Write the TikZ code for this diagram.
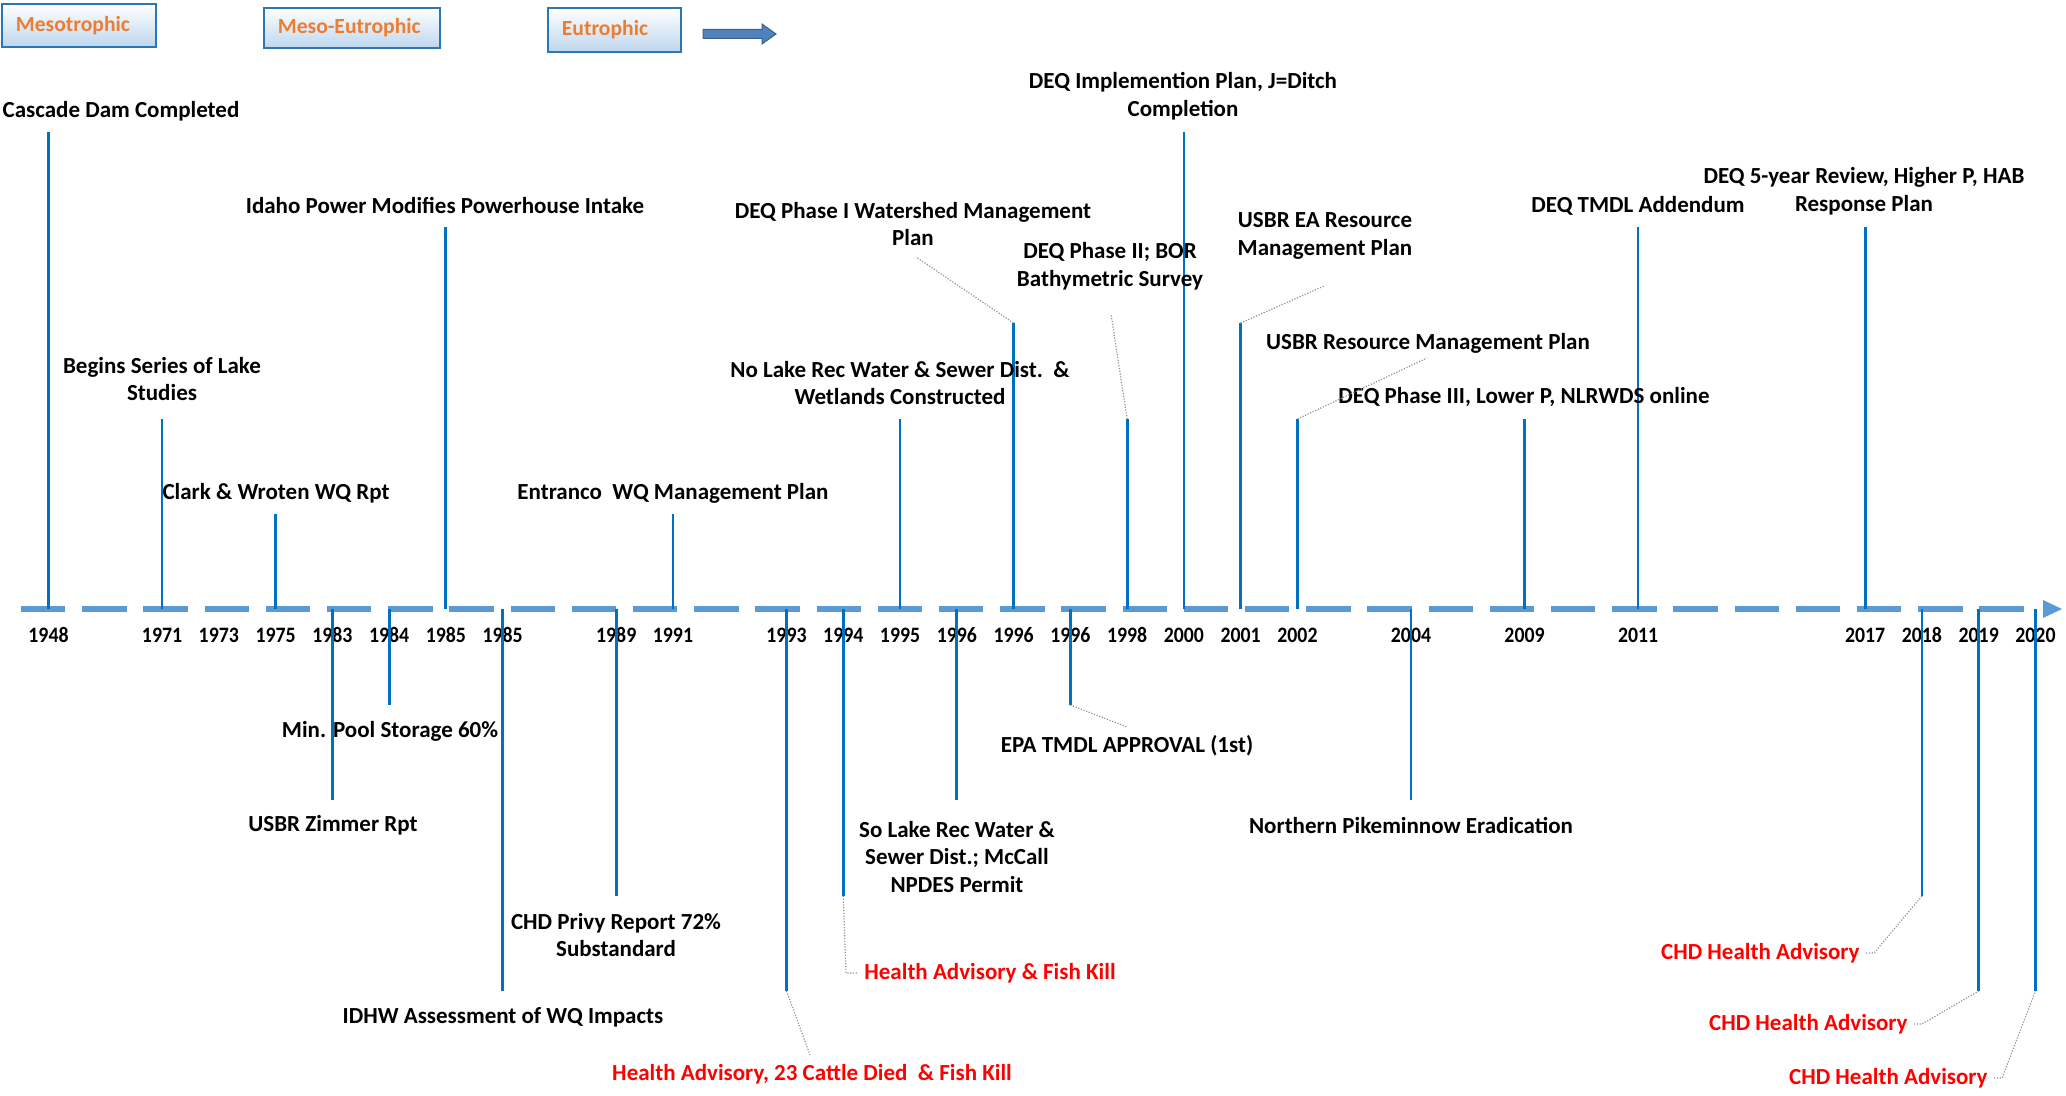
\documentclass[tikz,border=0pt]{standalone}
\usepackage{fontspec}
\usepackage{graphicx}
\setmainfont{Carlito}
\usetikzlibrary{calc}
\definecolor{stemblue}{RGB}{0,112,192}
\definecolor{axisblue}{RGB}{91,155,213}
\definecolor{legorange}{RGB}{237,125,49}
\definecolor{legfill}{RGB}{189,215,238}
\definecolor{legborder}{RGB}{46,117,182}
\definecolor{arrowfill}{RGB}{79,129,189}
\definecolor{advred}{RGB}{255,0,0}
\tikzset{
  stem/.style={draw=stemblue, line width=1.4pt},
  lead/.style={draw=gray!85, line width=0.6pt, dash pattern=on 0.6pt off 0.8pt},
  lbl/.style={font=\fontsize{11.5}{13.8}\selectfont\bfseries, align=center, inner sep=0pt, text=black, yshift=-1pt},
  redlbl/.style={lbl, text=advred, inner xsep=3pt},
  yr/.style={font=\fontsize{11}{13}\selectfont\bfseries, inner sep=0pt},
  legbox/.style={draw=legborder, line width=0.9pt, top color=white, bottom color=legfill,
    anchor=north west, inner xsep=7pt, inner ysep=0pt, align=left,
    font=\fontsize{10.8}{12}\selectfont\bfseries, text=legorange},
  axisline/.style={draw=axisblue, line width=2.6pt, dash pattern=on 22.2pt off 8.4pt}
}
\begin{document}
\begin{tikzpicture}[x=0.5pt,y=-0.5pt]
\useasboundingbox[fill=white] (0,0) rectangle (2066,1096);

% legend
\node[legbox, minimum width=77pt, minimum height=21.5pt, text width=63pt] (meso) at (1,3) {Mesotrophic};
\node[legbox, minimum width=88pt, minimum height=20pt, text width=74pt] (mesoeu) at (263,7) {Meso-Eutrophic};
\node[legbox, minimum width=66.5pt, minimum height=22pt, text width=52.5pt] (eu) at (547,7) {Eutrophic};
\draw[fill=arrowfill, draw=arrowfill!75!black, line width=0.5pt]
  (703,29.5) -- (762,29.5) -- (762,24) -- (776,34) -- (762,44) -- (762,38.5) -- (703,38.5) -- cycle;

% axis
\coordinate (axs) at (21,609);
\coordinate (axe) at (2030,609);
\draw[axisline] (axs) -- (axe);
\fill[axisblue] (2043,600) -- (2062,609) -- (2043,618) -- cycle;

% years
\foreach \k/\yr in {0/1948,2/1971,3/1973,4/1975,5/1983,6/1984,7/1985,8/1985,10/1989,11/1991,
  13/1993,14/1994,15/1995,16/1996,17/1996,18/1996,19/1998,20/2000,21/2001,22/2002,24/2004,
  26/2009,28/2011,32/2017,33/2018,34/2019,35/2020}
  \node[yr] (y\k) at ({48.5+56.77*\k},635) {\scalebox{0.9}[1]{\yr}};

% stems
\foreach \k/\e in {0/132,2/419,4/514,5/800,6/705,7/227,8/991,10/896,11/514,13/991,14/896,
  15/419,16/800,17/323,18/705,19/419,20/132,21/323,22/419,24/800,26/419,28/227,32/227,
  33/896,34/991,35/991}{
  \coordinate (a\k) at ({48.5+56.77*\k},609);
  \coordinate (e\k) at ({48.5+56.77*\k},\e);
  \draw[stem] (a\k) -- (e\k);
}

% labels above
\node[lbl] (l0) at (121,109) {Cascade Dam Completed};
\node[lbl] (l2) at (162,377) {Begins Series of Lake\\Studies};
\node[lbl] (l4) at (276,491) {Clark \& Wroten WQ Rpt};
\node[lbl] (l7) at (445,204) {Idaho Power Modifies Powerhouse Intake};
\node[lbl] (l11) at (673,491) {Entranco\ \ WQ Management Plan};
\node[lbl] (l15) at (900,381) {No Lake Rec Water \& Sewer Dist.\ \ \&\\Wetlands Constructed};
\node[lbl] (l17) at (913,222) {DEQ Phase I Watershed Management\\Plan};
\node[lbl] (l19) at (1110,264) {DEQ Phase II; BOR\\Bathymetric Survey};
\node[lbl] (l20) at (1183,94) {DEQ Implemention Plan, J=Ditch\\Completion};
\node[lbl] (l21) at (1325,234) {USBR EA Resource\\Management Plan};
\node[lbl] (l22) at (1428,341) {USBR Resource Management Plan};
\node[lbl] (l26) at (1524,395) {DEQ Phase III, Lower P, NLRWDS online};
\node[lbl] (l28) at (1638,204) {DEQ TMDL Addendum};
\node[lbl] (l32) at (1864,189) {DEQ 5-year Review, Higher P, HAB\\Response Plan};

% labels below
\node[lbl] (l5) at (333,823) {USBR Zimmer Rpt};
\node[lbl] (l6) at (390,729) {Min. Pool Storage 60\%};
\node[lbl] (l8) at (503,1015) {IDHW Assessment of WQ Impacts};
\node[lbl] (l10) at (616,933) {CHD Privy Report 72\%\\Substandard};
\node[lbl] (l16) at (957,855) {So Lake Rec Water \&\\Sewer Dist.; McCall\\NPDES Permit};
\node[lbl] (l18) at (1127,744) {EPA TMDL APPROVAL (1st)};
\node[lbl] (l24) at (1411,823) {Northern Pikeminnow Eradication};
\node[redlbl] (l13) at (812,1072) {Health Advisory, 23 Cattle Died\ \ \& Fish Kill};
\node[redlbl, anchor=west] (l14) at (858,971) {Health Advisory \& Fish Kill};
\node[redlbl, anchor=east] (l33) at (1866,951) {CHD Health Advisory};
\node[redlbl, anchor=east] (l34) at (1914,1022) {CHD Health Advisory};
\node[redlbl, anchor=east] (l35) at (1994,1076) {CHD Health Advisory};

% dotted leaders
\coordinate (k17) at (916,257);
\coordinate (k19) at (1111,314);
\coordinate (k21) at (1324,286);
\coordinate (k22) at (1427,358);
\coordinate (k13) at (810,1055);
\coordinate (k18) at (1127,727);
\coordinate (k14) at (846,973);
\draw[lead] (e17) -- (k17);
\draw[lead] (e19) -- (k19);
\draw[lead] (e21) -- (k21);
\draw[lead] (e22) -- (k22);
\draw[lead] (e13) -- (k13);
\draw[lead] (e18) -- (k18);
\draw[lead] (e14) -- (k14) -- (l14.west);
\draw[lead] (l33.east) -- ++(8,0) -- (e33);
\draw[lead] (l34.east) -- ++(8,0) -- (e34);
\draw[lead] (l35.east) -- ++(8,0) -- (e35);
\end{tikzpicture}
\end{document}
